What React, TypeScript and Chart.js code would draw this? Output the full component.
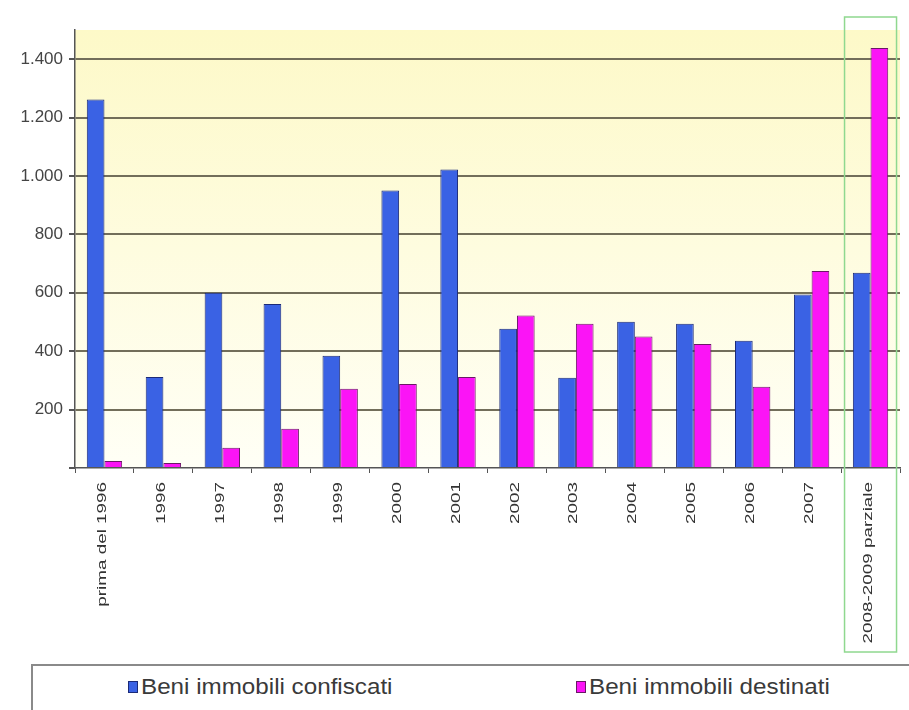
import React, { useEffect, useRef } from "react";
import { Chart, registerables } from "chart.js";

Chart.register(...registerables);

const categories = [
  "prima del 1996", "1996", "1997", "1998", "1999", "2000", "2001",
  "2002", "2003", "2004", "2005", "2006", "2007", "2008-2009 parziale",
];
const confiscati = [1262, 312, 600, 562, 384, 950, 1022, 477, 309, 501, 494, 436, 594, 669];
const destinati = [24, 17, 69, 134, 271, 288, 312, 522, 494, 450, 425, 278, 675, 1438];
const seriesNames = ["Beni immobili confiscati", "Beni immobili destinati"];
const yTicks = [200, 400, 600, 800, 1000, 1200, 1400];

const FONT = "'Liberation Sans', Arial, sans-serif";

const bgPlugin = {
  id: "bgPlugin",
  beforeDraw(chart: any) {
    const { ctx, chartArea } = chart;
    const g = ctx.createLinearGradient(0, chartArea.top, 0, chartArea.bottom);
    g.addColorStop(0, "#fdf9c8");
    g.addColorStop(1, "#fffff6");
    ctx.save();
    ctx.fillStyle = g;
    ctx.fillRect(chartArea.left, chartArea.top, chartArea.right - chartArea.left, chartArea.bottom - chartArea.top);
    ctx.restore();
  },
  afterDraw(chart: any) {
    const { ctx, chartArea } = chart;
    const x = chart.scales.x;
    const labels: string[] = chart.data.labels;
    ctx.save();
    ctx.fillStyle = "#333";
    ctx.font = `13px ${FONT}`;
    ctx.textAlign = "right";
    ctx.textBaseline = "middle";
    labels.forEach((lab, i) => {
      const px = x.getPixelForValue(i) - 2;
      ctx.save();
      ctx.translate(px, chartArea.bottom + 14);
      ctx.rotate(-Math.PI / 2);
      ctx.scale(1.45, 1);
      ctx.fillText(lab, 0, 0);
      ctx.restore();
    });
    ctx.restore();

    const c = x.getPixelForValue(categories.length - 1);
    ctx.save();
    ctx.strokeStyle = "#8fd88f";
    ctx.lineWidth = 1.5;
    ctx.strokeRect(c - 26, 17, 52, 635);
    ctx.restore();
  },
};

export default function App() {
  const ref = useRef<HTMLCanvasElement>(null);
  useEffect(() => {
    if (!ref.current) return;
    const chart = new Chart(ref.current, {
      type: "bar",
      data: {
        labels: categories,
        datasets: [
          {
            label: seriesNames[0],
            data: confiscati,
            backgroundColor: "#3a62e4",
            borderColor: "#1b2a78",
            borderWidth: 1,
            categoryPercentage: 0.6,
            barPercentage: 1,
          },
          {
            label: seriesNames[1],
            data: destinati,
            backgroundColor: "#fb14f6",
            borderColor: "#6a1866",
            borderWidth: 1,
            categoryPercentage: 0.6,
            barPercentage: 1,
          },
        ],
      },
      options: {
        animation: false,
        responsive: false,
        maintainAspectRatio: false,
        layout: { padding: { top: 30, right: 9, left: 0, bottom: 0 } },
        plugins: { legend: { display: false }, tooltip: { enabled: false } },
        scales: {
          x: {
            afterFit: (s: any) => { s.height = 192; },
            grid: { drawOnChartArea: false, drawTicks: true, tickLength: 5, color: "#555", lineWidth: 1 },
            border: { display: true, color: "#555", width: 1.5 },
            ticks: { display: false, autoSkip: false },
          },
          y: {
            min: 0, max: 1500,
            afterFit: (s: any) => { s.width = 75; },
            afterBuildTicks: (s: any) => {
              s.ticks = [0, ...yTicks, 1500].map((v) => ({ value: v }));
            },
            grid: {
              color: (c: any) => (c.tick && (c.tick.value === 0 || c.tick.value === 1500) ? "rgba(0,0,0,0)" : "#726e5a"),
              lineWidth: 2,
              drawTicks: true,
              tickLength: 6,
              tickColor: (c: any) => (c.tick && c.tick.value === 1500 ? "rgba(0,0,0,0)" : "#555"),
            },
            border: { display: true, color: "#555", width: 1.5 },
            ticks: {
              padding: 6,
              color: "#444",
              font: { family: FONT, size: 17 },
              callback: (v: any) => (v === 0 || v === 1500 ? "" : Number(v).toLocaleString("it-IT").replace(/\u00a0/g, ".")),
            },
          },
        },
      },
      plugins: [bgPlugin],
    });
    return () => chart.destroy();
  }, []);

  const textStyle: React.CSSProperties = { display: "inline-block", transform: "scaleX(1.1)", transformOrigin: "left center" };

  return (
    <div style={{ position: "fixed", left: 0, top: 0, width: 909, height: 710, background: "#fff", overflow: "hidden" }}>
      <canvas ref={ref} width={909} height={660} style={{ display: "block", width: 909, height: 660 }} />
      <div
        style={{
          position: "absolute", left: 31, top: 664, width: 900, height: 80,
          border: "2px solid #8a8a8a", boxSizing: "border-box", background: "#fff",
          fontFamily: FONT, fontSize: 22, color: "#3a3a3a",
        }}
      >
        <div style={{ position: "absolute", left: 95, top: 8, display: "flex", alignItems: "center", whiteSpace: "nowrap" }}>
          <span style={{ display: "inline-block", width: 8, height: 10, background: "#3a62e4", border: "1px solid #1b2a78", marginRight: 3 }} />
          <span style={textStyle}>{seriesNames[0]}</span>
        </div>
        <div style={{ position: "absolute", left: 543, top: 8, display: "flex", alignItems: "center", whiteSpace: "nowrap" }}>
          <span style={{ display: "inline-block", width: 8, height: 10, background: "#fb14f6", border: "1px solid #6a1866", marginRight: 3 }} />
          <span style={textStyle}>{seriesNames[1]}</span>
        </div>
      </div>
    </div>
  );
}
